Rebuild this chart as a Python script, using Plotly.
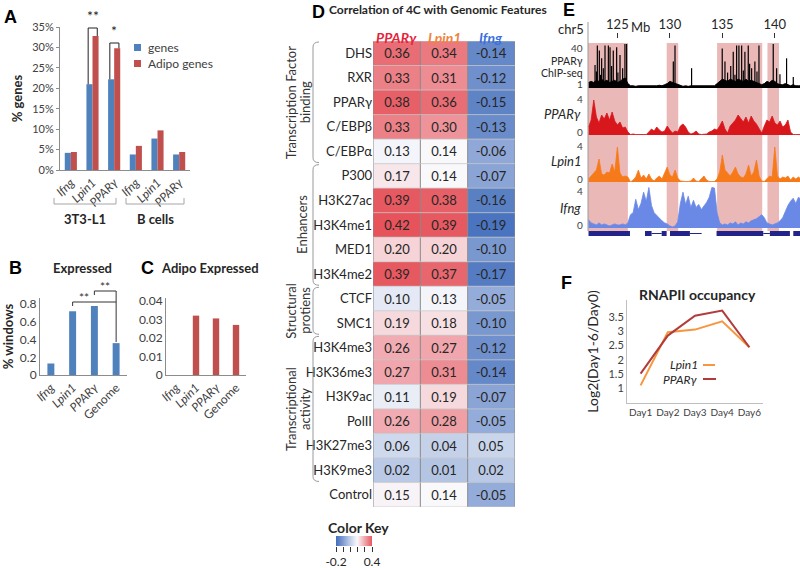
import plotly.graph_objects as go

W, H = 800, 568
def px(x): return x / W
def py(y): return 1 - y / H

FONT = "Lato, 'Open Sans', 'DejaVu Sans', sans-serif"
TXT = "#262626"
TICK = "#404040"
AXC = "#8c8c8c"
BLUE = "#4f81bd"
RED = "#c0504d"

# ---------------- Panel A data ----------------
a_genes = ["Ifng", "Lpin1", "PPARγ", "Ifng", "Lpin1", "PPARγ"]
a_cells = ["3T3-L1", "B cells"]
a_pct_genes = [0.042, 0.210, 0.222, 0.038, 0.077, 0.038]
a_pct_adipo = [0.044, 0.328, 0.298, 0.059, 0.097, 0.044]

# ---------------- Panel B / C data ----------------
bc_cats = ["Ifng", "Lpin1", "PPARγ", "Genome"]
b_expressed = [0.13, 0.72, 0.78, 0.36]
c_adipo_expressed = [0.0, 0.032, 0.0305, 0.027]

# ---------------- Panel D data ----------------
d_cols = ["PPARγ", "Lpin1", "Ifng"]
d_rows = ["DHS", "RXR", "PPARγ", "C/EBPβ", "C/EBPα", "P300", "H3K27ac", "H3K4me1",
          "MED1", "H3K4me2", "CTCF", "SMC1", "H3K4me3", "H3K36me3", "H3K9ac", "PolII",
          "H3K27me3", "H3K9me3", "Control"]
d_ppar = [0.36, 0.33, 0.38, 0.33, 0.13, 0.17, 0.39, 0.42, 0.20, 0.39, 0.10, 0.19,
          0.26, 0.27, 0.11, 0.26, 0.06, 0.02, 0.15]
d_lpin1 = [0.34, 0.31, 0.36, 0.30, 0.14, 0.14, 0.38, 0.39, 0.20, 0.37, 0.13, 0.18,
           0.27, 0.31, 0.19, 0.28, 0.04, 0.01, 0.14]
d_ifng = [-0.14, -0.12, -0.15, -0.13, -0.06, -0.07, -0.16, -0.19, -0.10, -0.17, -0.05, -0.10,
          -0.12, -0.14, -0.07, -0.05, 0.05, 0.02, -0.05]
d_group_line1 = ["Transcription Factor", "Enhancers", "Structural", "Transcriptional"]
d_group_line2 = ["binding", "", "protiens", "activity"]
d_group_sizes = [5, 5, 2, 6]
d_key_ticks = [-0.2, -0.08, 0.04, 0.16, 0.28, 0.4]

# ---------------- Panel E data ----------------
e_bin_start = 122.25
e_bin_step = 0.25
e_ppar_4c = [0.8, 1.5, 3.5, 1.8, 1.2, 2.0, 1.6, 2.2, 1.5, 2.3,
             1.4, 1.0, 1.3, 0.7, 0.8, 0.3, 0.05, 0.1, 0.05, 0.05,
             0.1, 0.05, 0.05, 0.3, 0.6, 0.4, 0.8, 0.5, 0.3, 0.4,
             0.9, 0.5, 0.2, 0.4, 0.3, 0.9, 1.1, 0.8, 0.3, 0.1,
             0.2, 0.4, 0.1, 0.05, 0.05, 0.1, 0.3, 0.4, 0.6, 0.5,
             0.9, 1.4, 0.6, 0.2, 0.9, 1.2, 1.5, 2.0, 1.6, 1.3,
             1.8, 1.2, 1.9, 1.4, 1.1, 0.7, 0.2, 0.9, 1.5, 1.3,
             1.9, 1.2, 1.0, 1.4, 0.8, 1.0, 1.5, 0.3, 0.05, 0.05,
             0.05, 0.05]
e_lpin1_4c = [0.3, 0.6, 0.9, 1.2, 2.3, 0.8, 0.7, 1.0, 0.9, 1.8,
              1.0, 3.5, 0.9, 0.5, 0.6, 0.5, 0.0, 0.2, 0.5, 1.2,
              0.4, 0.7, 0.3, 0.8, 0.3, 0.1, 0.4, 0.6, 0.3, 1.0,
              1.5, 0.7, 0.5, 1.2, 0.4, 0.1, 0.05, 0.05, 0.05, 0.1,
              0.4, 0.1, 0.05, 0.3, 0.6, 0.2, 0.05, 0.05, 0.05, 0.3,
              1.0, 2.7, 1.2, 0.9, 0.6, 1.0, 1.5, 0.8, 0.5, 0.4,
              0.8, 1.7, 0.6, 1.0, 2.2, 0.6, 0.1, 0.05, 0.3, 0.6,
              0.5, 3.5, 0.6, 0.3, 0.5, 0.4, 0.6, 0.2, 0.5, 0.3,
              0.5, 0.3]
e_ifng_4c = [0.8, 0.5, 0.4, 0.3, 0.5, 0.3, 0.4, 0.3, 0.2, 0.3,
             0.4, 0.3, 0.3, 0.4, 0.3, 0.5, 1.3, 1.5, 2.8, 1.8,
             2.4, 3.5, 2.6, 3.95, 2.2, 1.5, 1.2, 0.9, 0.7, 0.5,
             0.4, 0.2, 0.1, 0.2, 0.6, 2.4, 3.5, 2.3, 3.1, 2.0,
             2.7, 2.0, 2.3, 1.8, 2.1, 2.5, 3.0, 3.95, 3.9, 1.5,
             0.5, 0.3, 0.4, 0.3, 0.5, 0.4, 0.6, 0.3, 0.5, 0.4,
             0.6, 0.5, 0.7, 0.8, 0.9, 1.1, 1.3, 1.0, 0.5, 0.4,
             0.3, 0.4, 0.5, 0.7, 1.0, 1.6, 2.2, 2.6, 2.9, 2.4,
             3.0, 2.8]
e_chip_bg = [5, 6, 5, 7, 6, 8, 6, 7, 5, 6,
             7, 5, 6, 8, 9, 4, 2, 2, 1.5, 2,
             2, 1.5, 2, 2, 1.5, 2, 2, 2.5, 2, 3,
             4, 6, 5, 4, 3, 2, 1.5, 2, 1.5, 2,
             2, 1.5, 2, 2, 1.5, 2, 2, 2, 2, 4,
             6, 8, 7, 6, 8, 7, 6, 8, 7, 6,
             8, 6, 7, 6, 5, 4, 3, 4, 6, 5,
             7, 6, 4, 3, 3, 4, 3, 2, 3, 2,
             2, 2]
e_chip_peak_mb = [122.87, 123.0, 123.09, 123.28, 123.4, 123.50, 123.66, 123.82, 124.14, 124.30,
                  124.45, 124.61, 124.93, 125.05, 125.25, 125.5, 125.72, 125.88, 130.33, 130.49,
                  132.07, 134.99, 135.25, 135.5, 135.8, 136.04, 136.2, 136.36, 136.58, 136.84,
                  137.0, 137.15, 137.47, 137.6, 137.79, 138.10, 138.3, 138.49, 139.85, 140.17,
                  140.49, 141.12, 141.76]
e_chip_peak_h = [21, 15, 38.6, 34, 12, 27, 18, 38.6, 38.6, 37,
                 20, 34, 37, 14, 30, 18, 40, 40, 24, 38.6,
                 18, 36, 24, 14, 20, 33, 12, 38.6, 38.6, 38.6,
                 16, 33, 38.6, 22, 18, 24, 15, 38.6, 40, 18,
                 12.6, 27, 10]
e_region_start = [122.2, 129.7, 134.5, 139.3]
e_region_end = [126.0, 130.8, 138.8, 140.4]
e_gene_dense_start = [122.25, 127.63, 129.22, 130.01, 134.45, 139.53, 141.76]
e_gene_dense_end = [126.2, 128.26, 129.69, 131.91, 138.9, 141.44, 142.4]
e_gene_thin_start = [128.26, 131.91, 138.9]
e_gene_thin_end = [129.22, 133.03, 139.53]
e_ruler_ticks = [125, 130, 135, 140]
e_range = [122.2, 142.4]
e_chip_scale = [1, 40]
e_4c_scale = [0, 4]

# ---------------- Panel F data ----------------
f_days = ["Day1", "Day2", "Day3", "Day4", "Day6"]
f_lpin1 = [1.10, 2.97, 3.06, 3.35, 2.44]
f_ppar = [1.51, 2.85, 3.55, 3.73, 2.44]
f_yticks = [1, 1.5, 2, 2.5, 3, 3.5]

fig = go.Figure()
shapes = []
anns = []

def T(text, x, y, size=12, color=TXT, xanchor="center", yanchor="middle", angle=0,
      xref="paper", yref="paper", family=FONT, align="center"):
    anns.append(dict(text=text, x=px(x) if xref == "paper" else x,
                     y=py(y) if yref == "paper" else y, xref=xref, yref=yref,
                     showarrow=False, xanchor=xanchor, yanchor=yanchor, textangle=angle,
                     align=align, font=dict(size=size, color=color, family=family)))

def L(x0, y0, x1, y1, color="#333", width=1, xref="paper", yref="paper", dash=None):
    shapes.append(dict(type="line", xref=xref, yref=yref,
                       x0=px(x0) if xref == "paper" else x0, x1=px(x1) if xref == "paper" else x1,
                       y0=py(y0) if yref == "paper" else y0, y1=py(y1) if yref == "paper" else y1,
                       line=dict(color=color, width=width, dash=dash)))

# ================= Panel A =================
a_x = list(range(len(a_genes)))
fig.add_trace(go.Bar(x=a_x, y=a_pct_genes, width=0.28, offset=-0.28, marker=dict(color=BLUE, line=dict(width=0)),
                     xaxis="x", yaxis="y", name="genes"))
fig.add_trace(go.Bar(x=a_x, y=a_pct_adipo, width=0.28, offset=0.0, marker=dict(color=RED, line=dict(width=0)),
                     xaxis="x", yaxis="y", name="Adipo genes"))

for idx, stars, ytop in [(1, "**", 28), (2, "*", 43)]:
    xl, xr = idx - 0.2, idx + 0.22
    shapes.append(dict(type="line", xref="x", yref="paper", x0=xl, x1=xr, y0=py(ytop), y1=py(ytop),
                       line=dict(color="#222", width=1)))
    shapes.append(dict(type="line", xref="x", yref="paper", x0=xl, x1=xl, y0=py(ytop),
                       y1=py(170 - a_pct_genes[idx] / 0.35 * 143), line=dict(color="#222", width=1)))
    shapes.append(dict(type="line", xref="x", yref="paper", x0=xr, x1=xr, y0=py(ytop),
                       y1=py(170 - a_pct_adipo[idx] / 0.35 * 143), line=dict(color="#222", width=1)))
    anns.append(dict(text=stars, x=(xl + xr) / 2, y=py(ytop - 2), xref="x", yref="paper", showarrow=False,
                     yanchor="bottom", font=dict(size=14, color="#222", family=FONT)))

shapes.append(dict(type="rect", xref="paper", yref="paper", x0=px(134), x1=px(141), y0=py(51), y1=py(44),
                   fillcolor=BLUE, line=dict(width=0)))
shapes.append(dict(type="rect", xref="paper", yref="paper", x0=px(134), x1=px(141), y0=py(67), y1=py(60),
                   fillcolor=RED, line=dict(width=0)))
T("genes", 146, 47, size=12, color=TICK, xanchor="left")
T("Adipo genes", 146, 63, size=12, color=TICK, xanchor="left")

for (x0, x1), name in zip([(54, 116), (126, 184)], a_cells):
    L(x0, 204, x1, 204, color="#a6a6a6")
    L(x0, 198, x0, 204, color="#a6a6a6")
    L(x1, 198, x1, 204, color="#a6a6a6")
    T("<b>" + name + "</b>", (x0 + x1) / 2, 219, size=13, color=TXT)

# ================= Panel B / C =================
bc_x = list(range(len(bc_cats)))
fig.add_trace(go.Bar(x=bc_x, y=b_expressed, width=0.32, marker=dict(color=BLUE, line=dict(width=0)),
                     xaxis="x2", yaxis="y2"))
fig.add_trace(go.Bar(x=bc_x, y=c_adipo_expressed, width=0.32, marker=dict(color=RED, line=dict(width=0)),
                     xaxis="x3", yaxis="y3"))
L(1, 302, 3, 302, color="#333", xref="x2")
L(1, 302, 1, 306, color="#333", xref="x2")
L(2, 291, 3, 291, color="#333", xref="x2")
L(2, 291, 2, 295, color="#333", xref="x2")
L(3, 291, 3, 342, color="#333", xref="x2")
anns.append(dict(text="**", x=1.5, y=py(297), xref="x2", yref="paper", showarrow=False, yanchor="middle",
                 font=dict(size=12, color="#333", family=FONT)))
anns.append(dict(text="**", x=2.5, y=py(286), xref="x2", yref="paper", showarrow=False, yanchor="middle",
                 font=dict(size=12, color="#333", family=FONT)))

bc_ticktext = ["<i>%s</i>" % c if c != "Genome" else c for c in bc_cats]

# ================= Panel D heatmap =================
nrows = len(d_rows)
z = [[d_ppar[i], d_lpin1[i], d_ifng[i]] for i in range(nrows)]
hm_top, hm_bot = 41, 507
row_h = (hm_bot - hm_top) / nrows
CSCALE = [[0, "#4570bd"], [0.567, "#f9f9fc"], [1, "#e6535b"]]
fig.add_trace(go.Heatmap(
    z=z, x=list(range(len(d_cols))), y=list(range(nrows)), zmin=-0.2, zmax=0.4,
    colorscale=CSCALE, showscale=False,
    texttemplate="%{z:.2f}", textfont=dict(size=13, color=TXT, family=FONT),
    xaxis="x4", yaxis="y4", hoverinfo="skip"))
for j in range(len(d_cols) + 1):
    shapes.append(dict(type="line", xref="x4", yref="y4", x0=j - 0.5, x1=j - 0.5, y0=-0.5, y1=nrows - 0.5,
                       line=dict(color="#8a8a8a", width=1)))
for i in range(nrows + 1):
    shapes.append(dict(type="line", xref="x4", yref="y4", x0=-0.5, x1=len(d_cols) - 0.5, y0=i - 0.5, y1=i - 0.5,
                       line=dict(color="#c8c8c8", width=0.8)))
d_col_colors = ["#e4243b", "#f0823e", "#3b6fdc"]
for j, (c, col) in enumerate(zip(d_cols, d_col_colors)):
    anns.append(dict(text="<b><i>%s</i></b>" % c, x=j, y=py(27), xref="x4", yref="paper", showarrow=False,
                     font=dict(size=14, color=col, family=FONT)))
T("<b>Correlation of 4C with Genomic Features</b>", 438, 10, size=12, color=TXT)

fig.add_trace(go.Heatmap(z=[d_key_ticks], x=d_key_ticks, y=[0], zmin=-0.2, zmax=0.4, colorscale=CSCALE,
                         showscale=False, zsmooth="best", xaxis="x11", yaxis="y11", hoverinfo="skip"))
T("<b>Color Key</b>", 358, 527, size=14, color=TXT)

start = 0
for l1, l2, n in zip(d_group_line1, d_group_line2, d_group_sizes):
    yt = hm_top + start * row_h
    yb = hm_top + (start + n) * row_h
    xl, xh = 313, 319
    path = "M %f,%f Q %f,%f %f,%f L %f,%f Q %f,%f %f,%f" % (
        px(xh), py(yt + 1), px(xl), py(yt + 1), px(xl), py(yt + 6),
        px(xl), py(yb - 6), px(xl), py(yb - 1), px(xh), py(yb - 1))
    shapes.append(dict(type="path", xref="paper", yref="paper", path=path, line=dict(color="#9a9a9a", width=1)))
    ym = (yt + yb) / 2
    if l2:
        T(l1, 291, ym, size=13, color="#333", angle=-90)
        T(l2, 305, ym, size=13, color="#333", angle=-90)
    else:
        T(l1, 302, ym, size=13, color="#333", angle=-90)
    start += n

# ================= Panel E tracks =================
e_x = [e_bin_start + e_bin_step * i for i in range(len(e_ppar_4c))]
for s, e in zip(e_region_start, e_region_end):
    shapes.append(dict(type="rect", xref="x5", yref="paper", x0=s, x1=e, y0=py(231), y1=py(43),
                       fillcolor="#ebb8b8", line=dict(width=0), layer="below"))
fig.add_trace(go.Scatter(x=e_x, y=e_chip_bg, mode="lines", line=dict(color="#000", width=1),
                         fill="tozeroy", fillcolor="#000", xaxis="x5", yaxis="y5", hoverinfo="skip"))
sx, sy = [], []
for p, h in zip(e_chip_peak_mb, e_chip_peak_h):
    sx += [p, p, None]
    sy += [0, h, None]
fig.add_trace(go.Scatter(x=sx, y=sy, mode="lines", line=dict(color="#000", width=1.2),
                         xaxis="x5", yaxis="y5", hoverinfo="skip"))
for vals, col, ax in [(e_ppar_4c, "#d8171c", "6"), (e_lpin1_4c, "#f77a1a", "7"), (e_ifng_4c, "#6a88e6", "8")]:
    fig.add_trace(go.Scatter(x=e_x, y=vals, mode="lines", line=dict(color=col, width=0.8),
                             fill="tozeroy", fillcolor=col, xaxis="x" + ax, yaxis="y" + ax, hoverinfo="skip"))
gx, gy = [], []
for s, e in zip(e_gene_dense_start, e_gene_dense_end):
    gx += [s, e, None]
    gy += [0.5, 0.5, None]
fig.add_trace(go.Scatter(x=gx, y=gy, mode="lines", line=dict(color="#23238c", width=5),
                         xaxis="x9", yaxis="y9", hoverinfo="skip"))
tx, ty = [], []
for s, e in zip(e_gene_thin_start, e_gene_thin_end):
    tx += [s, e, None]
    ty += [0.5, 0.5, None]
fig.add_trace(go.Scatter(x=tx, y=ty, mode="lines", line=dict(color="#23238c", width=1),
                         xaxis="x9", yaxis="y9", hoverinfo="skip"))

for ax, (lo, hi) in [("5", e_chip_scale), ("6", e_4c_scale), ("7", e_4c_scale), ("8", e_4c_scale)]:
    for val, shift in [(lo, 3), (hi, -4)]:
        anns.append(dict(text=str(val), x=px(585), xref="paper", y=val, yref="y" + ax, yshift=shift,
                         xanchor="right", yanchor="middle", showarrow=False,
                         font=dict(size=10, color=TICK, family=FONT)))

L(588, 22, 588, 231, color="#9a9a9a")
T("chr5", 586, 29, size=13, color=TXT, xanchor="right")
T("Mb", 629, 27, size=13, color=TXT, xanchor="left")
T("PPARγ", 585, 61, size=10.5, color=TXT, xanchor="right")
T("ChIP-seq", 585, 73, size=10.5, color=TXT, xanchor="right")
T("<i>PPARγ</i>", 583, 114, size=13, color=TXT, xanchor="right")
T("<i>Lpin1</i>", 583, 161, size=13, color=TXT, xanchor="right")
T("<i>Ifng</i>", 583, 208, size=13, color=TXT, xanchor="right")

# ================= Panel F =================
fig.add_trace(go.Scatter(x=f_days, y=f_lpin1, mode="lines", line=dict(color="#f7963e", width=2),
                         xaxis="x10", yaxis="y10"))
fig.add_trace(go.Scatter(x=f_days, y=f_ppar, mode="lines", line=dict(color="#b23c3c", width=2),
                         xaxis="x10", yaxis="y10"))
T("<b>RNAPII occupancy</b>", 697, 294, size=14, color=TXT)
T("<i>Lpin1</i>", 700, 364, size=12, color=TXT, xanchor="right")
T("<i>PPARγ</i>", 700, 379, size=12, color=TXT, xanchor="right")
L(703, 365, 715, 365, color="#f7963e", width=2)
L(703, 379, 716, 379, color="#b23c3c", width=2)

# ================= Panel letters / titles =================
for letter, x, y in [("A", 10, 17), ("B", 15, 268), ("C", 147, 268), ("D", 318, 12), ("E", 569, 10), ("F", 566, 283)]:
    T("<b>" + letter + "</b>", x, y, size=18, color="#000", family="'Liberation Sans', Arial, sans-serif")
T("<b>Expressed</b>", 82, 268, size=13, color=TXT)
T("<b>Adipo Expressed</b>", 210, 268, size=13, color=TXT)

# ================= Axes =================
tickf = dict(size=11, color=TICK, family=FONT)
axbase = dict(showgrid=False, zeroline=False, fixedrange=True)

layout_axes = dict(
    xaxis=dict(domain=[px(60), px(190)], anchor="y", range=[-0.5, 5.5], tickvals=a_x,
               ticktext=["<i>%s</i>" % g for g in a_genes], tickangle=-45,
               tickfont=dict(size=12, color=TICK, family=FONT),
               showline=True, linecolor=AXC, ticks="", **axbase),
    yaxis=dict(domain=[py(170), py(27)], anchor="x", range=[0, 0.35], dtick=0.05, tickformat=".0%",
               tickfont=tickf, showline=True, linecolor=AXC, ticks="outside", ticklen=3, tickcolor=AXC,
               title=dict(text="<b>% genes</b>", font=dict(size=13, color=TXT, family=FONT), standoff=6), **axbase),
    xaxis2=dict(domain=[px(40), px(127)], anchor="y2", range=[-0.5, 3.5], tickvals=bc_x, ticktext=bc_ticktext,
                tickangle=-45, tickfont=dict(size=12, color=TICK, family=FONT), showline=True, linecolor=AXC,
                ticks="", **axbase),
    yaxis2=dict(domain=[py(375), py(298)], anchor="x2", range=[0, 0.87], tickvals=[0, 0.2, 0.4, 0.6, 0.8],
                ticktext=["0", "0.2", "0.4", "0.6", "0.8"], tickfont=dict(size=12, color=TICK, family=FONT),
                showline=True, linecolor=AXC, ticks="",
                title=dict(text="<b>% windows</b>", font=dict(size=13, color=TXT, family=FONT), standoff=6), **axbase),
    xaxis3=dict(domain=[px(166), px(246)], anchor="y3", range=[-0.5, 3.5], tickvals=bc_x, ticktext=bc_ticktext,
                tickangle=-45, tickfont=dict(size=12, color=TICK, family=FONT), showline=True, linecolor=AXC,
                ticks="", **axbase),
    yaxis3=dict(domain=[py(375), py(298)], anchor="x3", range=[0, 0.0415], tickvals=[0, 0.01, 0.02, 0.03, 0.04],
                ticktext=["0", "0.01", "0.02", "0.03", "0.04"], tickfont=dict(size=12, color=TICK, family=FONT),
                showline=True, linecolor=AXC, ticks="", **axbase),
    xaxis4=dict(domain=[px(373), px(515)], anchor="y4", range=[-0.5, 2.5], showticklabels=False, ticks="", **axbase),
    yaxis4=dict(domain=[py(hm_bot), py(hm_top)], anchor="x4", range=[nrows - 0.5, -0.5],
                tickvals=list(range(nrows)), ticktext=d_rows, ticks="",
                tickfont=dict(size=13, color=TXT, family=FONT), **axbase),
    xaxis5=dict(domain=[px(588), 1.0], anchor="free", position=py(32), side="top", range=e_range,
                tickvals=e_ruler_ticks, ticktext=[str(t) for t in e_ruler_ticks], ticks="inside", ticklen=5,
                tickcolor="#333", tickfont=dict(size=13, color=TXT, family=FONT), showline=False, **axbase),
    yaxis5=dict(domain=[py(88), py(44)], anchor="x5", range=[0, 40], showticklabels=False,
                ticks="", showline=False, **axbase),
    xaxis10=dict(domain=[px(627), px(763)], anchor="y10", range=[-0.5, 4.5], tickangle=0,
                 tickfont=dict(size=10, color=TICK, family=FONT),
                 showline=True, linecolor="#bfbfbf", ticks="", **axbase),
    yaxis10=dict(domain=[py(403), py(300)], anchor="x10", range=[0.48, 4.1], tickvals=f_yticks,
                 tickfont=tickf, showline=True, linecolor="#bfbfbf", ticks="",
                 title=dict(text="Log2(Day1-6/Day0)", font=dict(size=14, color=TXT, family=FONT), standoff=6),
                 **axbase),
    xaxis11=dict(domain=[px(336), px(372)], anchor="y11", range=[-0.2, 0.4], tickvals=d_key_ticks,
                 ticktext=["-0.2", "", "", "", "", "0.4"], ticks="outside", ticklen=5, tickcolor="#333",
                 tickfont=dict(size=12, color=TXT, family=FONT), showline=False, **axbase),
    yaxis11=dict(domain=[py(546), py(536)], anchor="x11", range=[-0.5, 0.5], visible=False, **axbase),
)
track_dom = {"6": (135, 95), "7": (182, 142), "8": (228, 187), "9": (237, 230)}
for k, (bot, top) in track_dom.items():
    layout_axes["xaxis" + k] = dict(domain=[px(588), 1.0], anchor="y" + k, range=e_range, visible=False, **axbase)
    if k == "9":
        layout_axes["yaxis" + k] = dict(domain=[py(bot), py(top)], anchor="x" + k, range=[0, 1], visible=False, **axbase)
    else:
        layout_axes["yaxis" + k] = dict(domain=[py(bot), py(top)], anchor="x" + k, range=e_4c_scale,
                                        showticklabels=False, ticks="", showline=False, **axbase)

fig.update_layout(
    width=W, height=H, autosize=False, margin=dict(l=0, r=0, t=0, b=0, autoexpand=False),
    paper_bgcolor="white", plot_bgcolor="white", showlegend=False, hovermode=False,
    barmode="group", font=dict(family=FONT, color=TXT),
    shapes=shapes, annotations=anns, **layout_axes)

fig.write_html("out.html", config={"displayModeBar": False, "staticPlot": True},
               post_script="document.body.style.margin='0';document.body.style.overflow='hidden';")
